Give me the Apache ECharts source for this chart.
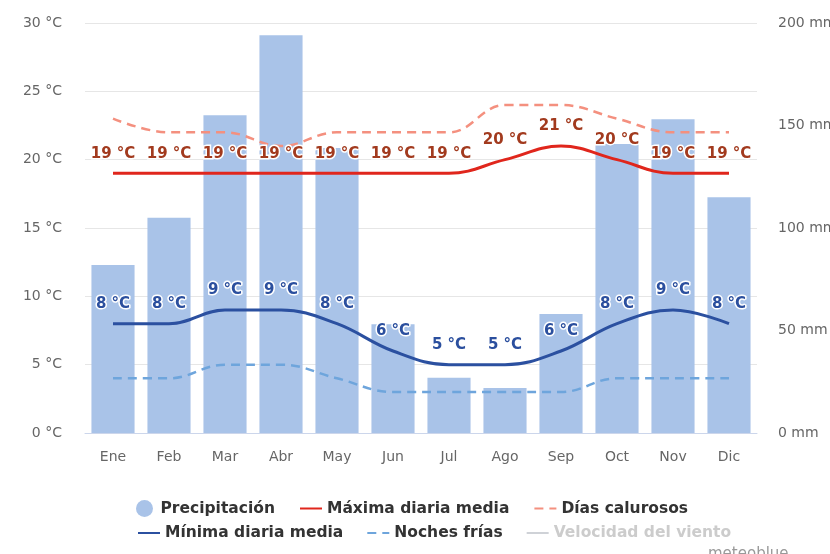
<!DOCTYPE html>
<html>
<head>
<meta charset="utf-8">
<script src="https://cdn.jsdelivr.net/npm/echarts@6/dist/echarts.min.js"></script>
<style>
  html, body { margin: 0; padding: 0; background: #fff; }
  #chart { width: 830px; height: 554px; }
</style>
</head>
<body>
<div id="chart"></div>
<script>
// Monthly climate summary
const months = ['Ene', 'Feb', 'Mar', 'Abr', 'May', 'Jun', 'Jul', 'Ago', 'Sep', 'Oct', 'Nov', 'Dic'];
const precipitation = [82, 105, 155, 194, 139, 53, 27, 22, 58, 141, 153, 115]; // mm
const maxDaily = [19, 19, 19, 19, 19, 19, 19, 20, 21, 20, 19, 19];          // °C
const minDaily = [8, 8, 9, 9, 8, 6, 5, 5, 6, 8, 9, 8];                      // °C
const hotDays = [23, 22, 22, 21, 22, 22, 22, 24, 24, 23, 22, 22];           // °C
const coldNights = [4, 4, 5, 5, 4, 3, 3, 3, 3, 4, 4, 4];                    // °C
const windSpeed = [];                                                       // hidden series
const tempTicks = { min: 0, max: 30, interval: 5 };
const precipTicks = { min: 0, max: 200, interval: 50 };

const FONT = 'DejaVu Sans';
const SMOOTH = 0.4;
const chart = echarts.init(document.getElementById('chart'), null, { renderer: 'canvas' });

const tempLabel = (color) => ({
  show: true,
  position: 'top',
  distance: 12,
  formatter: '{c} °C',
  fontFamily: FONT,
  fontSize: 15,
  fontWeight: 'bold',
  color: color,
  textBorderColor: '#ffffff',
  textBorderWidth: 3
});

// line legend entries show only the stroke, no marker dot
const lineItem = (name) => ({ name: name, itemStyle: { opacity: 0 } });
const legendText = { fontFamily: FONT, fontSize: 15.5, fontWeight: 'bold', color: '#333333' };

chart.setOption({
  animation: false,
  textStyle: { fontFamily: FONT },
  grid: { left: 85, right: 73, top: 23, bottom: 121, containLabel: false, outerBoundsMode: 'none' },
  legend: [
    {
      data: [{ name: 'Precipitación', icon: 'circle' }, lineItem('Máxima diaria media'), lineItem('Días calurosos')],
      top: 495, left: 131,
      itemWidth: 22, itemHeight: 17, itemGap: 24,
      textStyle: legendText
    },
    {
      data: [lineItem('Mínima diaria media'), lineItem('Noches frías'), lineItem('Velocidad del viento')],
      top: 520, left: 132,
      itemWidth: 22, itemHeight: 17, itemGap: 23,
      selected: { 'Velocidad del viento': false },
      inactiveColor: '#cccccc',
      textStyle: legendText
    }
  ],
  xAxis: {
    type: 'category',
    data: months,
    axisLine: { lineStyle: { color: '#ccd6eb', width: 1 } },
    axisTick: { alignWithLabel: true, length: 10, lineStyle: { color: '#ccd6eb' } },
    axisLabel: { color: '#666666', fontFamily: FONT, fontSize: 14, margin: 17 }
  },
  yAxis: [
    {
      type: 'value',
      min: tempTicks.min, max: tempTicks.max, interval: tempTicks.interval,
      axisLine: { show: false },
      axisTick: { show: false },
      splitLine: { lineStyle: { color: '#e6e6e6', width: 1 } },
      axisLabel: { formatter: '{value} °C', color: '#666666', fontFamily: FONT, fontSize: 14, margin: 23 }
    },
    {
      type: 'value',
      min: precipTicks.min, max: precipTicks.max, interval: precipTicks.interval,
      axisLine: { show: false },
      axisTick: { show: false },
      splitLine: { show: false },
      axisLabel: { formatter: '{value} mm', color: '#666666', fontFamily: FONT, fontSize: 14, margin: 21 }
    }
  ],
  series: [
    {
      name: 'Precipitación',
      type: 'bar',
      yAxisIndex: 1,
      data: precipitation,
      barCategoryGap: '23%',
      itemStyle: { color: '#a9c3e8' },
      z: 1
    },
    {
      name: 'Días calurosos',
      type: 'line',
      data: hotDays,
      smooth: SMOOTH,
      symbol: 'none',
      lineStyle: { color: '#f4907f', width: 2.5, type: [9, 6] },
      itemStyle: { color: '#f4907f' },
      z: 3
    },
    {
      name: 'Noches frías',
      type: 'line',
      data: coldNights,
      smooth: SMOOTH,
      symbol: 'none',
      lineStyle: { color: '#6ea5dc', width: 2.5, type: [9, 6] },
      itemStyle: { color: '#6ea5dc' },
      z: 3
    },
    {
      name: 'Máxima diaria media',
      type: 'line',
      data: maxDaily,
      smooth: SMOOTH,
      symbol: 'circle', symbolSize: 0, showSymbol: true, showAllSymbol: true,
      lineStyle: { color: '#e0261c', width: 3 },
      itemStyle: { color: '#e0261c' },
      label: tempLabel('#a23a1e'),
      z: 4
    },
    {
      name: 'Mínima diaria media',
      type: 'line',
      data: minDaily,
      smooth: SMOOTH,
      symbol: 'circle', symbolSize: 0, showSymbol: true, showAllSymbol: true,
      lineStyle: { color: '#2b50a0', width: 3 },
      itemStyle: { color: '#2b50a0' },
      label: tempLabel('#2b4f9e'),
      z: 4
    },
    {
      name: 'Velocidad del viento',
      type: 'line',
      data: windSpeed,
      symbol: 'none',
      lineStyle: { color: '#aaaaaa', width: 3 },
      itemStyle: { color: '#aaaaaa' }
    }
  ],
  graphic: [
    {
      type: 'text',
      left: 708, top: 547,
      style: { text: 'meteoblue', fontFamily: FONT, fontSize: 15, fill: '#999999' }
    }
  ]
});
</script>
</body>
</html>
